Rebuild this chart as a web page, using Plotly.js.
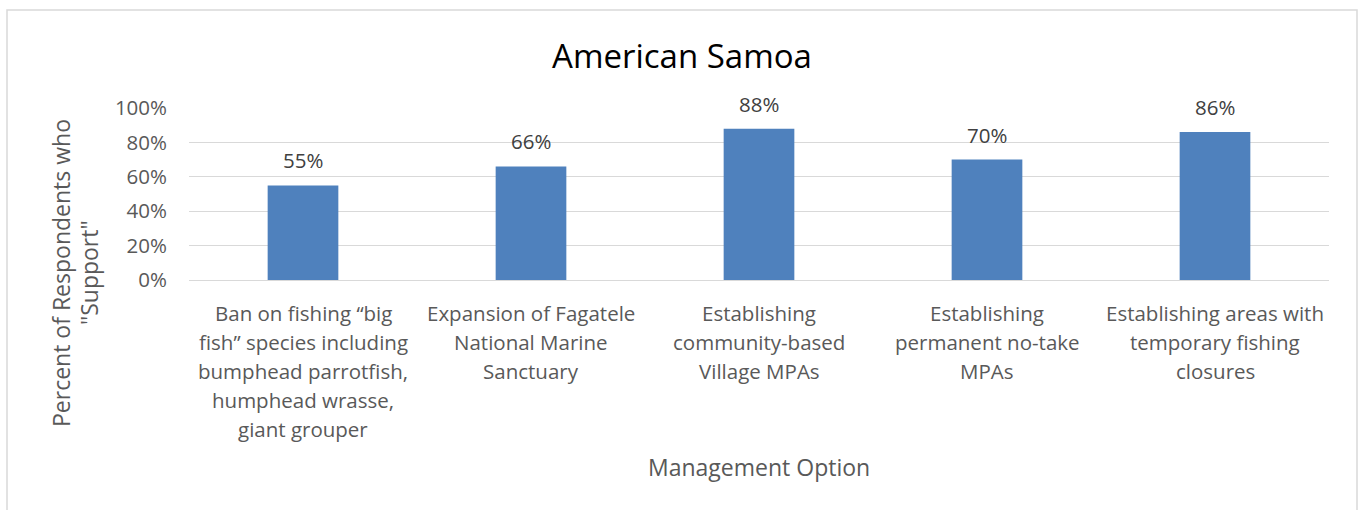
<!DOCTYPE html>
<html>
<head>
<meta charset="utf-8">
<script src="https://cdn.plot.ly/plotly-3.0.1.min.js"></script>
<style>html,body{margin:0;padding:0;background:#fff;}#chart{width:1365px;height:510px;}</style>
</head>
<body>
<div id="chart"></div>
<script>
// Data
const categoryLines = [
  ["Ban on fishing \u201cbig", "fish\u201d species including", "bumphead parrotfish,", "humphead wrasse,", "giant grouper"],
  ["Expansion of Fagatele", "National Marine", "Sanctuary"],
  ["Establishing", "community-based", "Village MPAs"],
  ["Establishing", "permanent no-take", "MPAs"],
  ["Establishing areas with", "temporary fishing", "closures"]
];
const supportValues = [0.55, 0.66, 0.88, 0.70, 0.86];
const valueLabels = ["55%", "66%", "88%", "70%", "86%"];
const yTickValues = [0, 0.2, 0.4, 0.6, 0.8, 1.0];
const yTickLabels = ["0%", "20%", "40%", "60%", "80%", "100%"];
const chartTitle = "American Samoa";
const xTitle = "Management Option";
const yTitleLines = ["Percent of Respondents who", "\"Support\""];

const categories = categoryLines.map(l => l.join(" "));

const FONT = "'Open Sans', 'Liberation Sans', sans-serif";
const TXT = "#595959";

// plot area geometry (pixels)
const W = 1365, H = 510;
const L = 189, R = 1329, T = 108, B = 280;
const pw = R - L, ph = B - T;
const px = x => (x - L) / pw;
const py = y => (B - y) / ph;

const annotations = [];
// value labels
categories.forEach((c, i) => {
  annotations.push({
    x: c, y: supportValues[i], xref: 'x', yref: 'y',
    text: valueLabels[i], showarrow: false,
    xanchor: 'center', yanchor: 'bottom', yshift: 9,
    font: {family: FONT, size: 20.5, color: '#404040'}
  });
});
// category labels, one line each
categoryLines.forEach((lines, i) => {
  lines.forEach((ln, j) => {
    annotations.push({
      x: categories[i], y: 0, xref: 'x', yref: 'paper',
      text: ln, showarrow: false,
      xanchor: 'center', yanchor: 'middle', yshift: -(33 + 29 * j),
      font: {family: FONT, size: 20.5, color: TXT}
    });
  });
});
// y title lines
yTitleLines.forEach((ln, j) => {
  annotations.push({
    x: px(61 + 28 * j), y: py(273), xref: 'paper', yref: 'paper',
    text: ln, showarrow: false, textangle: -90,
    xanchor: 'center', yanchor: 'middle',
    font: {family: FONT, size: 23, color: TXT}
  });
});
// x title
annotations.push({
  x: 0.5, y: py(467), xref: 'paper', yref: 'paper',
  text: xTitle, showarrow: false, xanchor: 'center', yanchor: 'middle',
  font: {family: FONT, size: 23, color: TXT}
});

const trace = {
  type: 'bar',
  x: categories,
  y: supportValues,
  width: 0.31,
  marker: {color: '#4F81BD', line: {color: '#4F81BD', width: 0}},
  hoverinfo: 'none'
};

const layout = {
  width: W, height: H,
  margin: {l: L, r: W - R, t: T, b: H - B, pad: 0},
  paper_bgcolor: '#fff', plot_bgcolor: '#fff',
  showlegend: false,
  title: {
    text: chartTitle,
    font: {family: FONT, size: 33, color: '#000'},
    xref: 'paper', x: px(682), xanchor: 'center',
    yref: 'container', y: 1 - 56 / H, yanchor: 'middle'
  },
  xaxis: {
    type: 'category', showticklabels: false, showgrid: false,
    zeroline: false, showline: true, linecolor: '#d9d9d9', linewidth: 1,
    ticks: '', fixedrange: true
  },
  yaxis: {
    range: [0, 1], tickvals: yTickValues, ticktext: yTickLabels,
    showgrid: true, gridcolor: '#d9d9d9', gridwidth: 1,
    zeroline: false, showline: false, ticks: '',
    ticklabelstandoff: 21,
    tickfont: {family: FONT, size: 20.5, color: TXT}, fixedrange: true
  },
  annotations: annotations,
  shapes: [{
    type: 'rect', xref: 'paper', yref: 'paper',
    x0: px(7), x1: px(1357), y0: py(530), y1: py(10),
    line: {color: '#d9d9d9', width: 1.5}, fillcolor: 'rgba(0,0,0,0)', layer: 'below'
  }]
};

Plotly.newPlot('chart', [trace], layout, {staticPlot: true, displayModeBar: false});
</script>
</body>
</html>
